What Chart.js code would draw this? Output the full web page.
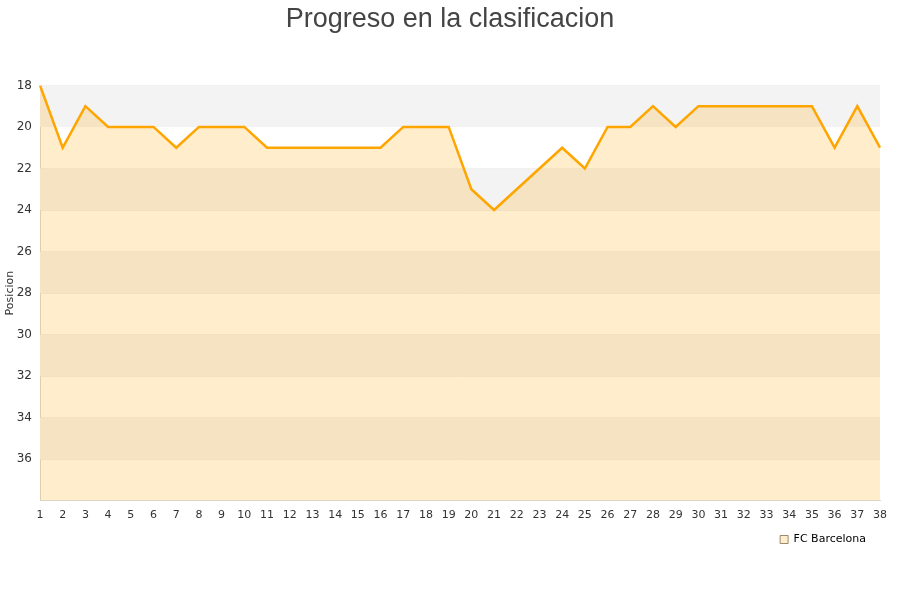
<!DOCTYPE html>
<html><head><meta charset="utf-8">
<script src="https://cdn.jsdelivr.net/npm/chart.js@4/dist/chart.umd.min.js"></script>
<style>html,body{margin:0;padding:0;background:#fff}#w{width:900px;height:600px}</style>
</head><body><div id="w"><canvas id="c"></canvas></div>
<script>
const jornadas = [1,2,3,4,5,6,7,8,9,10,11,12,13,14,15,16,17,18,19,20,21,22,23,24,25,26,27,28,29,30,31,32,33,34,35,36,37,38];
const posiciones = [18,21,19,20,20,20,21,20,20,20,21,21,21,21,21,21,20,20,20,23,24,23,22,21,22,20,20,19,20,19,19,19,19,19,19,21,19,21];
const yTicks = [18,20,22,24,26,28,30,32,34,36];
const serieNombre = 'FC Barcelona';
const titulo = 'Progreso en la clasificacion';

const bands = {
  id: 'bands',
  beforeDraw(chart) {
    if (chart.titleBlock) { chart.titleBlock.left = 0; chart.titleBlock.right = chart.width; }
    if (chart.legend && !chart.legend._shifted) { chart.legend.left -= 10; chart.legend.right -= 10; chart.legend._shifted = true; }
  },
  beforeDatasetsDraw(chart) {
    const {ctx, chartArea: a, scales: {y}} = chart;
    ctx.save();
    for (let v = 18; v < 38; v += 2) {
      const i = (v - 18) / 2;
      if (i % 2 === 0) {
        const t = y.getPixelForValue(v), b = y.getPixelForValue(v + 2);
        ctx.fillStyle = '#f3f3f3';
        ctx.fillRect(a.left, t, a.right - a.left, b - t);
      }
    }
    ctx.restore();
  }
};

new Chart(document.getElementById('c'), {
  type: 'line',
  data: {
    labels: jornadas,
    datasets: [{
      label: serieNombre,
      data: posiciones,
      borderColor: '#ffa500',
      backgroundColor: 'rgba(255,165,0,0.2)',
      borderWidth: 2.5,
      pointRadius: 0,
      tension: 0,
      fill: {value: 38}
    }]
  },
  options: {
    responsive: true,
    maintainAspectRatio: false,
    animation: false,
    layout: {padding: {left: 0, right: 20, top: 0, bottom: 45}},
    plugins: {
      title: {display: true, text: titulo, color: '#444', font: {family: 'Liberation Sans', size: 27, weight: 'normal'}, padding: {top: 3, bottom: 50}},
      legend: {
        position: 'bottom', align: 'end',
        labels: {boxWidth: 8, boxHeight: 8, color: '#000', font: {family: 'DejaVu Sans', size: 11}, padding: 4,
          generateLabels(chart) {
            return [{text: serieNombre, fillStyle: '#ffedcc', strokeStyle: '#9a8a70', lineWidth: 1, datasetIndex: 0}];
          }}
      },
      tooltip: {enabled: false}
    },
    scales: {
      x: {
        offset: false,
        grid: {display: false, drawTicks: false},
        border: {color: '#d8d8d8'},
        ticks: {color: '#333', font: {family: 'DejaVu Sans', size: 11}, maxRotation: 0, autoSkip: false, padding: 8}
      },
      y: {
        reverse: true, min: 18, max: 38,
        afterBuildTicks(s) { s.ticks = yTicks.concat([38]).map(v => ({value: v})); },
        afterFit(s) { s.width = 40; },
        grid: {color: 'rgba(0,0,0,0.07)', drawTicks: false},
        border: {color: '#d8d8d8'},
        title: {display: true, text: 'Posicion', color: '#333', font: {family: 'DejaVu Sans', size: 11}, padding: {top: 4, bottom: 0}},
        ticks: {color: '#333', font: {family: 'DejaVu Sans', size: 12}, padding: 8,
          callback(v) { return v === 38 ? '' : v; }}
      }
    }
  },
  plugins: [bands]
});
</script></body></html>
